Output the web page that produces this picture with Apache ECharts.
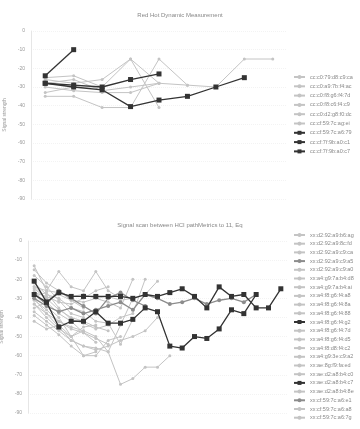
<!DOCTYPE html>
<html>
<head>
<meta charset="utf-8">
<script src="https://cdn.jsdelivr.net/npm/echarts@6/dist/echarts.min.js"></script>
<style>
  html, body { margin: 0; padding: 0; background: #fff; }
  #chart { width: 360px; height: 429px; }
</style>
</head>
<body>
<div id="chart"></div>
<script>
// top panel
const topTitle = "Red Hot Dynamic Measurement";
const topCats = ["1", "2", "3", "4", "5", "6", "7", "8", "9"];
const topNames = [
  "cc:c0:79:d8:c9:ca", "cc:c0:a9:7b:f4:ac", "cc:c0:f8:g6:f4:7d",
  "cc:c0:f8:c6:f4:c9", "cc:c0:d2:g8:f0:dc", "cc:cf:59:7c:ag:ei",
  "cc:cf:59:7c:a6:79", "cc:cf:7f:9b:a0:c1", "cc:cf:7f:9b:a0:c7"
];
const t1 = [-25, -24, -30, -15, -28, -29, -30, -15, -15];
const t2 = [-35, -35, -41, -41, -15, -29, null, null, null];
const t3 = [-30, -32, -33, -33, -28, null, null, null, null];
const t4 = [-26, -28, -26, -15, -41, null, null, null, null];
const t5 = [-28, -26, -32, -30, -28, null, null, null, null];
const t6 = [-33, -30, -30, null, null, null, null, null, null];
const t7 = [-24, -10, null, null, null, null, null, null, null];
const t8 = [-28, -29, -30, -26, -23, null, null, null, null];
const t9 = [-28, -30, -31.5, -40.5, -37, -35, -30, -25, null];
const topData = [t1, t2, t3, t4, t5, t6, t7, t8, t9];
const topDark = [false, false, false, false, false, false, true, true, true];

// bottom panel
const botTitle = "Signal scan between HCI pathMetrics to 11, Eq";
const botCats = ["1","2","3","4","5","6","7","8","9","10","11","12","13","14","15","16","17","18","19","20","21"];
const botNames = [
  "xx:d2:92:a9:b6:ag", "xx:d2:92:a9:8c:fd", "xx:d2:92:a9:c9:ca", "xx:d2:92:a9:c9:a5",
  "xx:d2:92:a9:c9:a0", "xx:a4:g9:7a:b4:d8", "xx:a4:g9:7a:b4:ai", "xx:a4:f8:g6:f4:a8",
  "xx:a4:f8:g6:f4:8a", "xx:a4:f8:g6:f4:88", "xx:a4:f8:g6:f4:g2", "xx:a4:f8:g6:f4:7d",
  "xx:a4:f8:g6:f4:d5", "xx:a4:f8:d8:f4:c2", "xx:a4:g9:3e:c9:a2", "xx:ae:8g:f9:fa:ed",
  "xx:ae:d2:a8:b4:c0", "xx:ae:d2:a8:b4:c7", "xx:ae:d2:a8:b4:8e", "xx:cf:59:7c:a6:e1",
  "xx:cf:59:7c:a6:a8", "xx:cf:59:7c:a6:7g"
];
const b1 = [-13, -26, -16, -24, -26, -16, -26, -30];
const b2 = [-15, -22, -26, -31, -35];
const b3 = [-24, -30, -36, -40, -42, -45, -47];
const b4 = [-28, -33, -26, -30, -34, -38, -30, -27, -31, -34];
const b5 = [-26, -34, -40, -50, -60, -60, -52, -50];
const b6 = [-31, -36, -42, -46, -48, -51, -54];
const b7 = [-22, -28, -30, -35, -37, -42, -43, -54, -41];
const b8 = [-33, -40, -46, -50, -45, -44];
const b9 = [-24, -26, -27, -29, -28, -30, -32, -35, -20];
const b10 = [-29, -27, -35, -41, -43, -46, -44, -40, -38, -20];
const b11 = [-21, -32, -27, -29, -29, -29, -29, -29, -30, -28, -29, -27, -25, -29, -35, -24, -29, -28, -35, -35, -25];
const b12 = [-30, -38, -45, -52, -55, -56, -58, -44, -30];
const b13 = [-35, -32, -38, -42, -48, -53];
const b14 = [-27, -29, -32, -33, -30, -26, -24];
const b15 = [-37, -42, -47, -52, -55, -57, -55, -52, -50, -47, -40];
const b16 = [-25, -30, -28, -31, -32, -30, -29, -31, -30, -28, -21];
const b17 = [-33, -38, -42, -45, -47, -50, -58, -75, -72, -66, -66, -60];
const b18 = [-28, -32, -45, -42, -42, -37, -43, -43, -41, -35, -37, -55, -56, -50, -51, -46, -36, -38, -28];
const b19 = [-39, -44, -49, -55, -60, -58];
const b20 = [-30, -34, -37, -35, -38, -36, -34, -32, -36, -28, -30, -33, -32, -30, -33, -31, -30, -32, -28];
const b21 = [-42, -46, -44, -50, -47];
const b22 = [-18, -24, -31, -38, -40];
const botData = [b1, b2, b3, b4, b5, b6, b7, b8, b9, b10, b11, b12, b13, b14, b15, b16, b17, b18, b19, b20, b21, b22];
// 0 light, 1 medium, 2 dark
const botTone = [0, 0, 0, 1, 0, 0, 0, 0, 0, 0, 2, 0, 0, 0, 0, 0, 0, 2, 0, 1, 0, 0];

const FONT = "Liberation Sans";
const toneColor = ["#c4c4c4", "#8c8c8c", "#333333"];

function lineSeries(name, data, tone, idx) {
  return {
    name: name,
    type: "line",
    xAxisIndex: idx,
    yAxisIndex: idx,
    data: data,
    connectNulls: false,
    symbol: tone === 2 ? "rect" : "circle",
    symbolSize: tone === 2 ? 5 : (tone === 1 ? 4 : 3),
    lineStyle: { width: tone === 0 ? 1 : 1.3, color: toneColor[tone] },
    itemStyle: { color: toneColor[tone] },
    z: tone + 2,
    animation: false
  };
}

function yAxis(idx) {
  return {
    type: "value",
    gridIndex: idx,
    min: -90,
    max: 0,
    interval: 10,
    name: "Signal strength",
    nameLocation: "middle",
    nameGap: 17,
    nameTextStyle: { fontSize: 5, color: "#999", fontFamily: FONT },
    axisLine: { show: true, lineStyle: { color: "#e6e6e6" } },
    axisTick: { show: false },
    axisLabel: { fontSize: 5, color: "#999", fontFamily: FONT, margin: 6 },
    splitLine: { show: true, lineStyle: { color: "#f3f3f3", type: "dotted" } }
  };
}

function xAxis(idx, cats) {
  return {
    type: "category",
    gridIndex: idx,
    data: cats,
    boundaryGap: true,
    show: false
  };
}

const series = [];
topData.forEach((d, i) => series.push(lineSeries(topNames[i], d, topDark[i] ? 2 : 0, 0)));
botData.forEach((d, i) => series.push(lineSeries(botNames[i], d, botTone[i], 1)));

const legendBase = {
  type: "plain",
  orient: "vertical",
  left: 293,
  itemWidth: 11,
  itemHeight: 5,
  textStyle: { fontSize: 5.5, color: "#888", fontFamily: FONT },
  padding: 0
};

const chart = echarts.init(document.getElementById("chart"), null, { renderer: "canvas" });
chart.setOption({
  backgroundColor: "#fff",
  animation: false,
  title: [
    { text: topTitle, left: "center", top: 7, textStyle: { fontSize: 6, fontWeight: "normal", color: "#888", fontFamily: FONT } },
    { text: botTitle, left: "center", top: 217, textStyle: { fontSize: 6, fontWeight: "normal", color: "#888", fontFamily: FONT } }
  ],
  grid: [
    { left: 31, right: 73, top: 31, height: 168, outerBoundsMode: "none", containLabel: false },
    { left: 28, right: 73, top: 241, height: 172, outerBoundsMode: "none", containLabel: false }
  ],
  xAxis: [xAxis(0, topCats), xAxis(1, botCats)],
  yAxis: [yAxis(0), yAxis(1)],
  legend: [
    Object.assign({}, legendBase, { top: 74, itemGap: 3.3, data: topNames }),
    Object.assign({}, legendBase, { top: 232, itemGap: 2.7, data: botNames })
  ],
  series: series
});
</script>
</body>
</html>
